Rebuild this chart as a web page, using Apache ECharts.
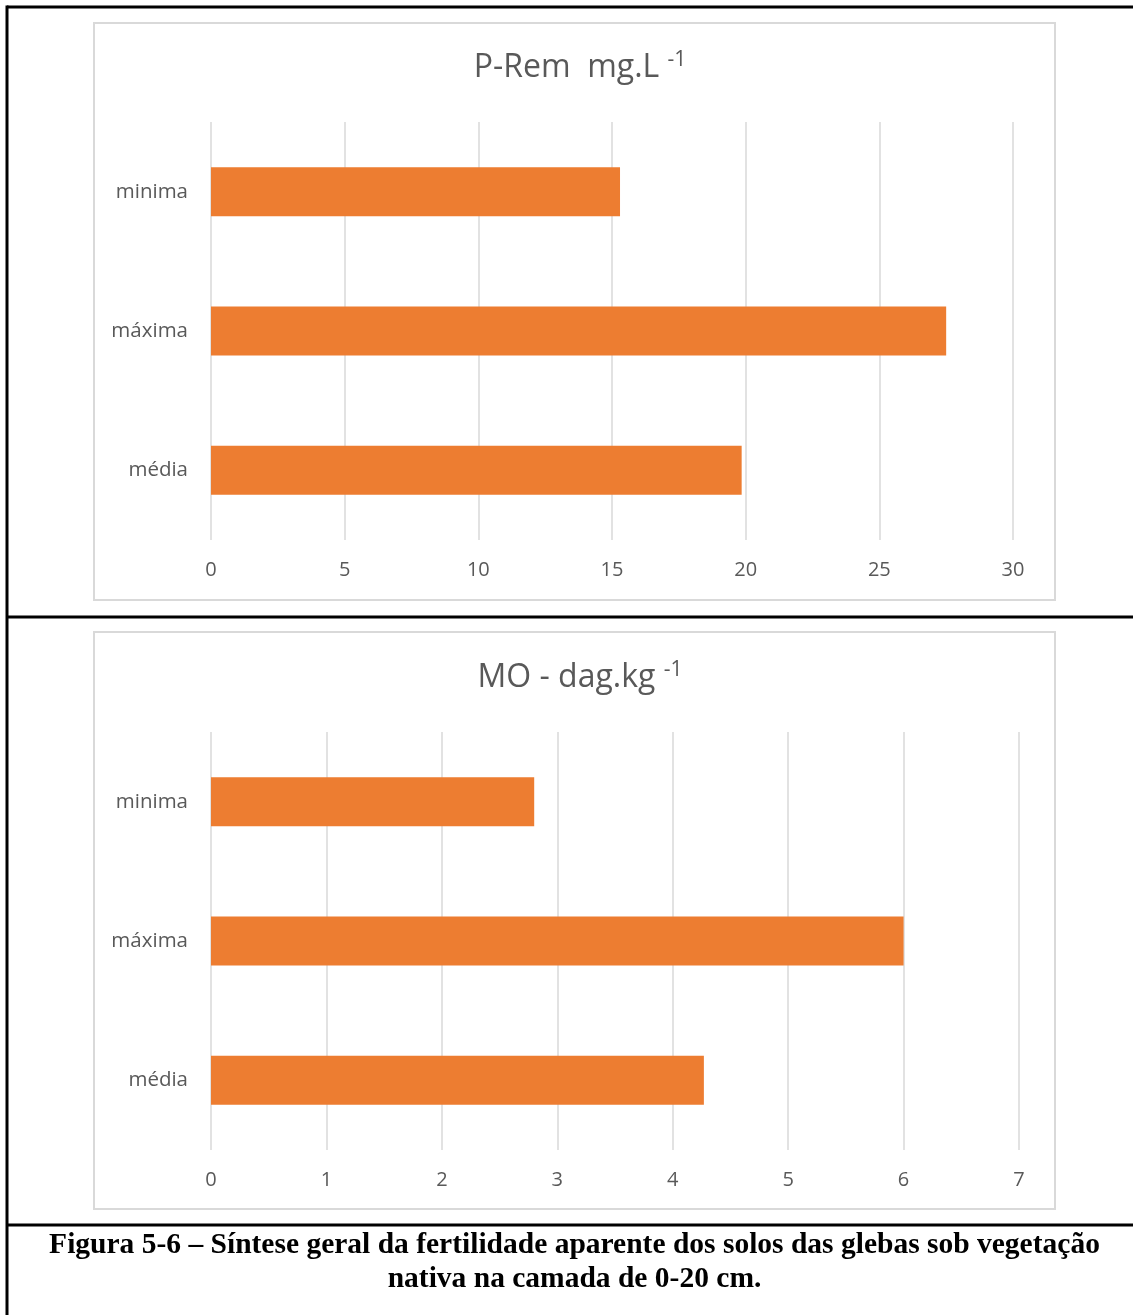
<!DOCTYPE html>
<html>
<head>
<meta charset="utf-8">
<style>
  html, body { margin: 0; padding: 0; background: #fff; }
  #chart { width: 1133px; height: 1315px; }
</style>
<script src="https://cdn.jsdelivr.net/npm/echarts@6/dist/echarts.min.js"></script>
</head>
<body>
<div id="chart"></div>
<script>
// Categories shared by both panels (top to bottom)
const categories = ['minima', 'máxima', 'média'];

// P-Rem (mg.L-1)
const pRemValues = [15.3, 27.5, 19.85];
const pRemTicks = { min: 0, max: 30, interval: 5 };

// Organic matter MO (dag.kg-1)
const moValues = [2.8, 6.0, 4.27];
const moTicks = { min: 0, max: 7, interval: 1 };

const captionLines = [
  'Figura 5-6 – Síntese geral da fertilidade aparente dos solos das glebas sob vegetação',
  'nativa na camada de 0-20 cm.'
];

const textColor = '#595959';
const gridColor = '#d9d9d9';
const barColor = '#ed7d31';
const uiFont = '"Open Sans", "Noto Sans", sans-serif';

const chart = echarts.init(document.getElementById('chart'), null, { renderer: 'canvas' });

function valueAxis(gridIndex, ticks) {
  return {
    type: 'value',
    gridIndex: gridIndex,
    min: ticks.min,
    max: ticks.max,
    interval: ticks.interval,
    axisLine: { show: false },
    axisTick: { show: false },
    axisLabel: { color: textColor, fontSize: 20, fontFamily: uiFont, margin: 20 },
    splitLine: { show: true, lineStyle: { color: gridColor, width: 1.5 } }
  };
}

function categoryAxis(gridIndex) {
  return {
    type: 'category',
    gridIndex: gridIndex,
    data: categories,
    inverse: true,
    axisLine: { show: false },
    axisTick: { show: false },
    axisLabel: { color: textColor, fontSize: 20.5, fontFamily: uiFont, margin: 23, padding: [3, 0, 0, 0] }
  };
}

function titleRich() {
  return {
    a: { fontSize: 32, fontWeight: 'normal', color: textColor, fontFamily: uiFont },
    s: { fontSize: 21, fontWeight: 'normal', color: textColor, fontFamily: uiFont, verticalAlign: 'top', padding: [0, 0, 15, 0] }
  };
}

const line = (x1, y1, x2, y2, w, c) => ({
  type: 'line', silent: true,
  shape: { x1, y1, x2, y2 },
  style: { stroke: c, lineWidth: w }
});

const box = (x, y, w, h) => ({
  type: 'rect', silent: true, z: -1,
  shape: { x, y, width: w, height: h },
  style: { fill: '#fff', stroke: gridColor, lineWidth: 2 }
});

const captionFont = 'bold 29.5px "Liberation Serif", "Times New Roman", serif';

const option = {
  animation: false,
  backgroundColor: '#fff',
  title: [
    {
      text: '{a|P-Rem  mg.L }{s|-1}',
      left: 575, top: 45, textAlign: 'center',
      textStyle: { fontWeight: 'normal', rich: titleRich() }
    },
    {
      text: '{a|MO - dag.kg }{s|-1}',
      left: 575, top: 655, textAlign: 'center',
      textStyle: { fontWeight: 'normal', rich: titleRich() }
    }
  ],
  grid: [
    { left: 211, right: 120, top: 122, height: 418 },
    { left: 211, right: 114, top: 732, height: 418 }
  ],
  xAxis: [valueAxis(0, pRemTicks), valueAxis(1, moTicks)],
  yAxis: [categoryAxis(0), categoryAxis(1)],
  series: [
    {
      type: 'bar', xAxisIndex: 0, yAxisIndex: 0,
      data: pRemValues, barWidth: 49,
      itemStyle: { color: barColor }
    },
    {
      type: 'bar', xAxisIndex: 1, yAxisIndex: 1,
      data: moValues, barWidth: 49,
      itemStyle: { color: barColor }
    }
  ],
  graphic: [
    // chart frames
    box(94, 23, 961, 577),
    box(94, 632, 961, 577),
    // table rules
    line(7, 7, 1133, 7, 3, '#000'),
    line(7, 617, 1133, 617, 3, '#000'),
    line(7, 1225, 1133, 1225, 3, '#000'),
    line(7, 5.5, 7, 1315, 3, '#000'),
    // caption
    {
      type: 'text', silent: true,
      x: 574.5, y: 1245,
      style: {
        text: captionLines[0], fill: '#000', font: captionFont,
        align: 'center', verticalAlign: 'middle'
      }
    },
    {
      type: 'text', silent: true,
      x: 574.5, y: 1279,
      style: {
        text: captionLines[1], fill: '#000', font: captionFont,
        align: 'center', verticalAlign: 'middle'
      }
    }
  ]
};

chart.setOption(option);
</script>
</body>
</html>
